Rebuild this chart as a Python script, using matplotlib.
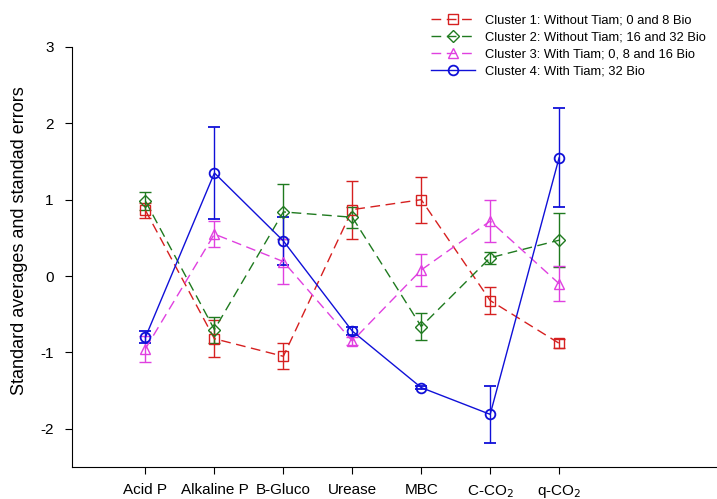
import numpy as np
import matplotlib.pyplot as plt
from matplotlib.lines import Line2D

plt.rcParams['font.family'] = ['Liberation Sans', 'DejaVu Sans']

categories = ['Acid P', 'Alkaline P', 'B-Gluco', 'Urease', 'MBC', 'C-CO$_2$', 'q-CO$_2$']

# cluster means and standard errors
c1_mean = [0.86, -0.82, -1.05, 0.87, 1.00, -0.32, -0.88]
c1_err = [0.10, 0.24, 0.17, 0.38, 0.30, 0.18, 0.06]
c2_mean = [0.98, -0.70, 0.84, 0.77, -0.66, 0.24, 0.47]
c2_err = [0.12, 0.17, 0.36, 0.14, 0.18, 0.08, 0.35]
c3_mean = [-0.95, 0.55, 0.19, -0.85, 0.08, 0.72, -0.10]
c3_err = [0.17, 0.17, 0.29, 0.05, 0.21, 0.27, 0.23]
c4_mean = [-0.80, 1.35, 0.46, -0.72, -1.46, -1.81, 1.55]
c4_err = [0.08, 0.60, 0.31, 0.05, 0.02, 0.37, 0.65]

labels = ['Cluster 1: Without Tiam; 0 and 8 Bio',
          'Cluster 2: Without Tiam; 16 and 32 Bio',
          'Cluster 3: With Tiam; 0, 8 and 16 Bio',
          'Cluster 4: With Tiam; 32 Bio']

fig = plt.figure(figsize=(7.17, 4.99), dpi=100)
ax = fig.add_axes([0.1, 0.064, 0.9, 0.842])

x = np.arange(len(categories))
series = [
    (c1_mean, c1_err, '#d62020', 's', (0, (7, 4))),
    (c2_mean, c2_err, '#1f7a1f', 'D', (0, (7, 4))),
    (c3_mean, c3_err, '#e040e0', '^', (0, (7, 4))),
    (c4_mean, c4_err, '#1010d8', 'o', '-'),
]
handles = []
for (m, e, col, mk, ls), lab in zip(series, labels):
    ms = 6 if mk == 'D' else 7
    mew = 1.3 if mk == 'o' else 1.0
    ax.errorbar(x, m, yerr=e, color=col, ecolor=col, linestyle=ls, linewidth=1.0,
                marker=mk, markersize=ms, markerfacecolor='none', markeredgecolor=col,
                markeredgewidth=mew, capsize=4, elinewidth=1.0, capthick=1.0)
    handles.append(Line2D([], [], color=col, linestyle=ls, linewidth=1.0, marker=mk,
                          markersize=ms, markerfacecolor='none', markeredgewidth=mew))

ax.set_xlim(-1.07, 8.29)
ax.set_ylim(-2.5, 3)
ax.set_yticks([-2, -1, 0, 1, 2, 3])
ax.set_yticklabels(['-2', '-1', '0', '1', '2', '3'])
ax.set_xticks(x)
ax.set_xticklabels(categories)
ax.tick_params(labelsize=11, direction='out', length=5)
ax.tick_params(axis='y', pad=8)
ax.tick_params(axis='x', pad=6.5)
ax.spines['top'].set_visible(False)
ax.spines['right'].set_visible(False)
ax.spines['left'].set_bounds(-2.5, 3)
ax.set_ylabel('Standard averages and standad errors', fontsize=13)
ax.yaxis.set_label_coords(-0.067, 0.54)

fig.legend(handles=handles, labels=labels, loc='upper left', bbox_to_anchor=(0.585, 0.995),
           frameon=False, fontsize=9.3, handlelength=3.4, labelspacing=0.4, handletextpad=0.8)

fig.savefig('out.png', dpi=100)
